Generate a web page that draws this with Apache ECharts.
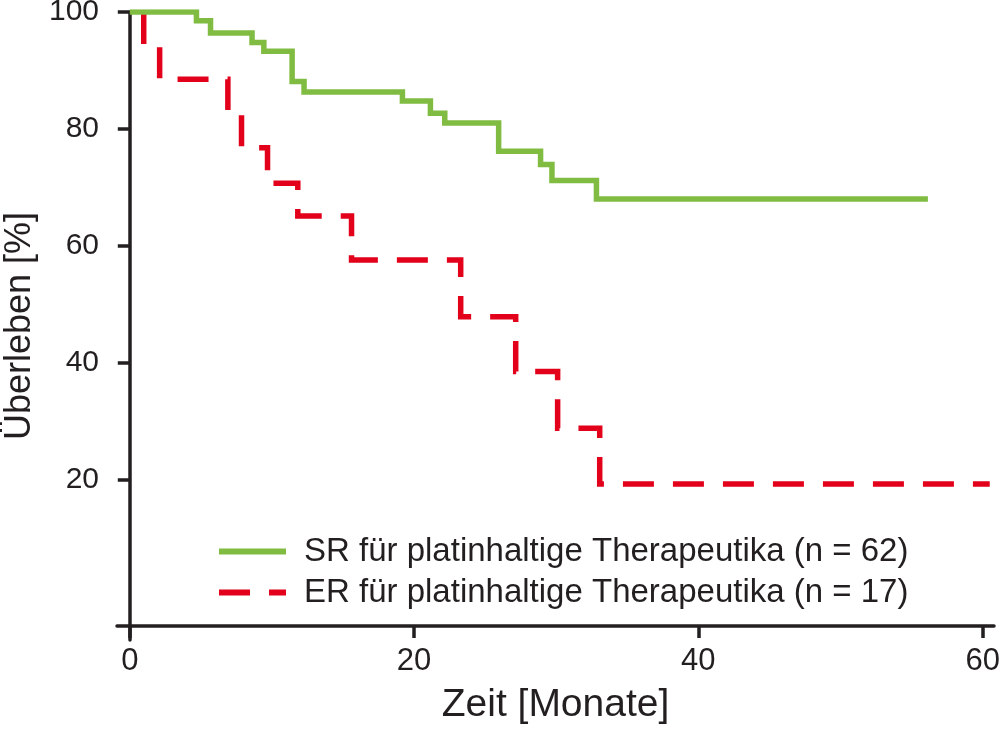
<!DOCTYPE html>
<html>
<head>
<meta charset="utf-8">
<script src="https://cdn.jsdelivr.net/npm/echarts@6/dist/echarts.min.js"></script>
<style>html,body{margin:0;padding:0;background:#fff}#c{width:1000px;height:734px}</style>
</head>
<body>
<div id="c"></div>
<script>
// Kaplan-Meier step data (time in months, survival in %)
const srTimes  = [0, 4.69, 5.68, 8.6, 9.43, 11.42, 12.26, 19.18, 21.15, 22.16, 25.95, 28.9, 29.7, 32.83, 56.15];
const srValues = [100, 98.5, 96.4, 94.8, 93.3, 88.1, 86.3, 84.8, 82.7, 81.0, 76.2, 73.9, 71.2, 68.0, 68.0];
const erTimes  = [0, 0.98, 2.1, 6.9, 7.86, 9.69, 11.82, 15.6, 23.28, 27.15, 30.1, 33.06, 60.5];
const erValues = [100, 94.4, 88.5, 82.7, 76.8, 70.7, 65.1, 57.6, 47.9, 38.5, 28.8, 19.3, 19.3];
const xTicks = [0, 20, 40, 60];
const yTicks = [20, 40, 60, 80, 100];
const srName = 'SR für platinhaltige Therapeutika (n = 62)';
const erName = 'ER für platinhaltige Therapeutika (n = 17)';

const zip = (a, b) => a.map((t, i) => [t, b[i]]);
const FONT = 'Liberation Sans';
const AX = '#231f20';

const chart = echarts.init(document.getElementById('c'), null, {renderer: 'canvas'});
chart.setOption({
  animation: false,
  backgroundColor: '#fff',
  textStyle: {fontFamily: FONT},
  grid: {left: 117, right: 6, top: 12, bottom: 94, containLabel: false, outerBoundsMode: 'none'},
  xAxis: {
    type: 'value', min: -0.9, max: 60.8,
    offset: -14,
    name: 'Zeit [Monate]', nameLocation: 'middle', nameGap: 60,
    nameTextStyle: {fontSize: 39, color: AX, fontFamily: FONT},
    axisLine: {onZero: false, lineStyle: {color: AX, width: 3.5}},
    axisTick: {show: true, length: 12, inside: false, lineStyle: {color: AX, width: 3.5}, customValues: xTicks},
    axisLabel: {fontSize: 31, color: AX, margin: 20, customValues: xTicks, fontFamily: FONT},
    splitLine: {show: false}
  },
  yAxis: {
    type: 'value', min: -7.4, max: 100,
    name: 'Überleben [%]', nameLocation: 'middle', nameGap: 66, nameRotate: 90,
    nameTextStyle: {fontSize: 36, color: AX, fontFamily: FONT},
    axisLine: {onZero: true, lineStyle: {color: AX, width: 3.5}},
    axisTick: {show: true, length: 12, lineStyle: {color: AX, width: 3.5}, customValues: yTicks},
    axisLabel: {fontSize: 30, color: AX, margin: 18, customValues: yTicks, fontFamily: FONT},
    splitLine: {show: false}
  },
  legend: {
    orient: 'vertical', left: 216, top: 535, padding: 0,
    itemWidth: 67, itemHeight: 6, itemGap: 8,
    data: [srName, erName],
    textStyle: {fontSize: 33, color: AX, fontFamily: FONT, padding: [0, 0, 0, 13], lineHeight: 33},
    itemStyle: {opacity: 0, borderWidth: 0},
    lineStyle: {width: 6, dashOffset: 0}
  },
  series: [
    {
      name: erName, type: 'line', step: 'end', symbol: 'none', z: 2,
      data: zip(erTimes, erValues),
      itemStyle: {color: '#e2001a'},
      lineStyle: {color: '#e2001a', width: 5.5, type: [31, 19], dashOffset: 35, cap: 'butt', join: 'miter'}
    },
    {
      name: srName, type: 'line', step: 'end', symbol: 'none', z: 3,
      data: zip(srTimes, srValues),
      itemStyle: {color: '#80bc41'},
      lineStyle: {color: '#80bc41', width: 5.5, cap: 'butt', join: 'miter'}
    }
  ]
});
</script>
</body>
</html>
